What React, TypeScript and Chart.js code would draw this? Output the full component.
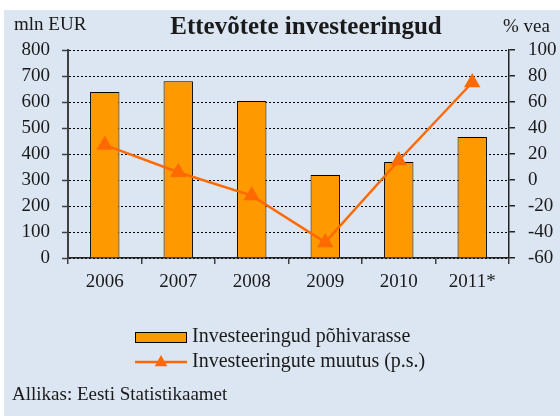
import React, { useEffect, useRef } from "react";
import { Chart, registerables } from "chart.js";

Chart.register(...registerables);

const categories = ["2006", "2007", "2008", "2009", "2010", "2011*"];
const investments = [638, 680, 604, 319, 369, 465];
const changePct = [27, 6, -12, -48, 15, 75];
const leftTicks = { min: 0, max: 800, step: 100 };
const rightTicks = { min: -60, max: 100, step: 20 };

const TITLE = "Ettevõtete investeeringud";
const LEFT_UNIT = "mln EUR";
const RIGHT_UNIT = "% vea";
const BAR_LABEL = "Investeeringud põhivarasse";
const LINE_LABEL = "Investeeringute muutus (p.s.)";
const SOURCE = "Allikas: Eesti Statistikaamet";

const BG = "#dce6f2";
const BAR_COLOR = "#ff9900";
const LINE_COLOR = "#ff6a00";
const TEXT = "#1a1a1a";
const FONT = "'Liberation Serif', 'DejaVu Serif', serif";

const W = 556;
const H = 406;

export default function App() {
  const ref = useRef<HTMLCanvasElement | null>(null);

  useEffect(() => {
    document.body.style.margin = "0";
    const canvas = ref.current;
    if (!canvas) return;

    const decor = {
      id: "decor",
      beforeDraw(chart: any) {
        const ctx = chart.ctx;
        ctx.save();
        ctx.fillStyle = BG;
        ctx.fillRect(0, 0, chart.width, chart.height);
        ctx.restore();
      },
      afterDraw(chart: any) {
        const ctx = chart.ctx;
        ctx.save();
        ctx.fillStyle = TEXT;
        ctx.textBaseline = "middle";
        ctx.font = `bold 25px ${FONT}`;
        ctx.textAlign = "center";
        ctx.fillText(TITLE, 302, 18);
        ctx.font = `19px ${FONT}`;
        ctx.textAlign = "left";
        ctx.fillText(LEFT_UNIT, 10, 15);
        ctx.fillText(RIGHT_UNIT, 499, 17);

        // legend
        const bx = 131, bw = 52;
        ctx.fillStyle = BAR_COLOR;
        ctx.fillRect(bx, 322, bw, 11);
        ctx.strokeStyle = "#000";
        ctx.lineWidth = 1;
        ctx.strokeRect(bx + 0.5, 322.5, bw - 1, 10);
        ctx.fillStyle = TEXT;
        ctx.font = `20px ${FONT}`;
        ctx.fillText(BAR_LABEL, 188, 327);

        ctx.strokeStyle = LINE_COLOR;
        ctx.lineWidth = 2.5;
        ctx.beginPath();
        ctx.moveTo(bx, 352);
        ctx.lineTo(bx + bw, 352);
        ctx.stroke();
        ctx.fillStyle = LINE_COLOR;
        const cx = bx + bw / 2, cy = 352, r = 7;
        ctx.beginPath();
        ctx.moveTo(cx, cy - r);
        ctx.lineTo(cx + r * 0.9, cy + r * 0.6);
        ctx.lineTo(cx - r * 0.9, cy + r * 0.6);
        ctx.closePath();
        ctx.fill();
        ctx.fillStyle = TEXT;
        ctx.fillText(LINE_LABEL, 188, 352);

        ctx.font = `19px ${FONT}`;
        ctx.fillText(SOURCE, 8, 385);
        ctx.restore();
      },
    };

    const tickFont = { family: FONT, size: 19 };

    const chart = new Chart(canvas, {
      type: "bar",
      data: {
        labels: categories,
        datasets: [
          {
            type: "line",
            label: LINE_LABEL,
            data: changePct,
            yAxisID: "y1",
            borderColor: LINE_COLOR,
            backgroundColor: LINE_COLOR,
            borderWidth: 2.5,
            pointStyle: "triangle",
            pointRadius: 7,
            pointBackgroundColor: LINE_COLOR,
            pointBorderColor: LINE_COLOR,
            tension: 0,
            order: 0,
          },
          {
            type: "bar",
            label: BAR_LABEL,
            data: investments,
            yAxisID: "y",
            backgroundColor: BAR_COLOR,
            borderColor: "#000",
            borderWidth: 1,
            categoryPercentage: 1,
            barPercentage: 0.4,
            order: 1,
          },
        ],
      } as any,
      options: {
        animation: false,
        responsive: false,
        devicePixelRatio: 1,
        layout: { padding: { top: 40, bottom: 128, left: 0, right: 0 } },
        plugins: { legend: { display: false }, tooltip: { enabled: false }, title: { display: false } },
        scales: {
          x: {
            offset: true,
            grid: { offset: true, drawOnChartArea: false, drawTicks: true, tickLength: 6, color: "#404040", lineWidth: 1.5 },
            border: { display: true, color: "#222", width: 1.5 },
            ticks: { font: tickFont, color: TEXT, padding: 7, maxRotation: 0 },
            afterFit(scale: any) { scale.height = 30; },
          },
          y: {
            position: "left",
            min: leftTicks.min,
            max: leftTicks.max,
            ticks: { stepSize: leftTicks.step, font: tickFont, color: TEXT, padding: 12 },
            grid: { color: "#000", lineWidth: 1, tickLength: 6, drawTicks: true, tickColor: "#404040", tickWidth: 1.5 },
            border: { display: true, color: "#404040", width: 2, dash: [2, 2] },
            afterFit(scale: any) { scale.width = 64; },
          },
          y1: {
            position: "right",
            min: rightTicks.min,
            max: rightTicks.max,
            ticks: { stepSize: rightTicks.step, font: tickFont, color: TEXT, padding: 13 },
            grid: { drawOnChartArea: false, drawTicks: true, tickLength: 6, color: "#222", lineWidth: 1.5 },
            border: { display: true, color: "#222", width: 1.5 },
            afterFit(scale: any) { scale.width = 51; },
          },
        },
      } as any,
      plugins: [decor],
    });

    return () => chart.destroy();
  }, []);

  return (
    <div style={{ position: "relative", width: 560, height: 416, background: "#fff" }}>
      <canvas
        ref={ref}
        width={W}
        height={H}
        style={{ position: "absolute", left: 4, top: 10, width: W, height: H }}
      />
    </div>
  );
}
